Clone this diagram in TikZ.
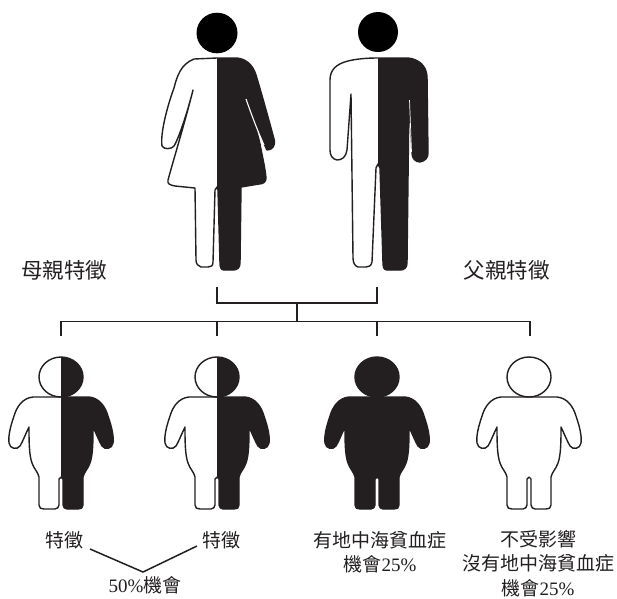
\documentclass[tikz,border=0pt]{standalone}
\usepackage{fontspec}
\setmainfont{Liberation Serif}
\newfontfamily\cjk{Noto Sans CJK TC}
\definecolor{ink}{HTML}{231F20}
\newcommand\latn[1]{{\rmfamily #1}}

% woman silhouette: dress, arms and legs, one closed outline
\newcommand\womanshape{(217,58) -- (237,58)
 .. controls (246,59) and (253,65) .. (256,75)
 .. controls (262,95) and (270,124) .. (274,139)
 .. controls (276,146) and (272,150) .. (267,150)
 .. controls (261,138) and (251,114) .. (244,93)
 .. controls (250,112) and (257,130) .. (260,144)
 .. controls (262,155) and (265,167) .. (266,178)
 .. controls (266,182) and (263,184) .. (259,184)
 -- (241,187) -- (240,263)
 .. controls (240,268) and (237,270) .. (233,270)
 -- (224,270) .. controls (221,270) and (220,267) .. (220,263)
 -- (218,190) -- (217,187) -- (215,190)
 -- (213,262) .. controls (213,266) and (211,267) .. (208,267)
 -- (201,267) .. controls (198,266) and (196,264) .. (196,260)
 -- (195,188) -- (175,186)
 .. controls (170,185) and (167,184) .. (168,180)
 .. controls (174,158) and (185,122) .. (193,90)
 .. controls (188,110) and (179,138) .. (174,146)
 .. controls (172,149) and (164,150) .. (162,146)
 .. controls (160,133) and (168,104) .. (174,88)
 .. controls (177,76) and (181,64) .. (194,59) -- cycle}

% man silhouette
\newcommand\manshape{(378,58) -- (408,58)
 .. controls (418,59) and (426,65) .. (427,76)
 -- (428,153) .. controls (428,158) and (425,161) .. (420,162)
 .. controls (415,162) and (412,158) .. (412,153)
 -- (409,96) -- (407,263)
 .. controls (407,268) and (404,270) .. (400,270)
 -- (387,270) .. controls (384,270) and (383,267) .. (383,263)
 -- (380,168) -- (378,164) -- (376,168)
 -- (372,262) .. controls (371,266) and (369,267) .. (366,267)
 -- (358,267) .. controls (355,266) and (353,263) .. (353,258)
 -- (351,94) -- (347,150)
 .. controls (346,157) and (342,160) .. (337,160)
 .. controls (332,159) and (330,155) .. (330,150)
 -- (330,80) .. controls (330,70) and (336,64) .. (348,61)
 .. controls (356,59) and (366,58) .. (378,58) -- cycle}

% child body, drawn about its own vertical centre line
\newcommand\kidshape{(0,397) -- (28,397)
 .. controls (38,398) and (44,406) .. (47,416)
 .. controls (50,425) and (53,435) .. (52,443)
 .. controls (51,449) and (44,450) .. (41,446)
 .. controls (38,441) and (35,433) .. (32,427)
 .. controls (32,440) and (32,455) .. (29,463)
 .. controls (27,469) and (23,472) .. (22,477)
 -- (22,505) .. controls (22,508) and (20,509) .. (17,509)
 -- (6,509) .. controls (4,509) and (2,507) .. (2,505)
 -- (2,479) -- (0,477) -- (-2,479) -- (-2,505)
 .. controls (-2,507) and (-4,509) .. (-6,509)
 -- (-17,509) .. controls (-20,509) and (-22,508) .. (-22,505)
 -- (-22,477) .. controls (-23,472) and (-27,469) .. (-29,463)
 .. controls (-32,455) and (-32,440) .. (-32,427)
 .. controls (-35,433) and (-38,441) .. (-41,446)
 .. controls (-44,450) and (-51,449) .. (-52,443)
 .. controls (-53,435) and (-50,425) .. (-47,416)
 .. controls (-44,406) and (-38,398) .. (-28,397) -- cycle}
\newcommand\kidhead{(0,377) ellipse [x radius=22, y radius=20]}

\begin{document}
\begin{tikzpicture}[x=1pt, y=-1pt,
  figline/.style={draw=ink, line width=1.4pt, line join=round},
  tree/.style={draw=ink, line width=1.9pt},
  vline/.style={draw=ink, line width=1.5pt},
  toplabel/.style={font=\cjk\fontsize{21.5}{26}\selectfont, text=ink, inner sep=0pt},
  kidlabel/.style={font=\cjk\fontsize{19}{24.5}\selectfont, text=ink, inner sep=0pt, align=center}]
\useasboundingbox[fill=white] (0,0) rectangle (617,598);

% ---- parents ----
\fill[black] (217,33) ellipse [x radius=20.5, y radius=20.3];
\fill[white] \womanshape;
\begin{scope}
  \clip (217,50) rectangle (300,280);
  \fill[ink] \womanshape;
\end{scope}
\draw[figline] \womanshape;
\draw[white, line width=1.1pt] (246,99) .. controls (252,116) and (258,132) .. (264,145);

\fill[black] (378,32) ellipse [x radius=20, y radius=20];
\fill[white] \manshape;
\begin{scope}
  \clip (378,50) rectangle (450,280);
  \fill[ink] \manshape;
\end{scope}
\draw[figline] \manshape;
\draw[white, line width=0.7pt] (409.5,100) -- (411.5,152);

\node[toplabel] (mom) at (64,270) {母親特徵};
\node[toplabel] (dad) at (506.5,270) {父親特徵};

% ---- family tree connectors ----
\coordinate (pM) at (217,287);
\coordinate (pF) at (377,287);
\coordinate (pJ) at (297,303);
\coordinate (kJ) at (297,321.5);
\coordinate (k1) at (61,336);
\coordinate (k2) at (217,336);
\coordinate (k3) at (377,336);
\coordinate (k4) at (530,336);
\draw[tree] (pM) |- (pJ) -| (pF);
\draw[tree] (pJ) -- (kJ);
\draw[tree] (k1) |- (kJ) -| (k4);
\draw[tree] (k2) -- (k2 |- kJ);
\draw[tree] (k3) -- (k3 |- kJ);

% ---- children ----
\foreach \m in {61,217}{
  \begin{scope}[shift={(\m,0)}]
    \fill[white] \kidshape; \fill[white] \kidhead;
    \begin{scope}
      \clip (0,350) rectangle (70,515);
      \fill[ink] \kidshape; \fill[ink] \kidhead;
    \end{scope}
    \draw[figline] \kidshape; \draw[figline] \kidhead;
  \end{scope}}
\begin{scope}[shift={(377,0)}]
  \fill[ink] \kidshape; \fill[ink] \kidhead;
  \draw[figline] \kidshape; \draw[figline] \kidhead;
\end{scope}
\begin{scope}[shift={(529,0)}]
  \fill[white] \kidshape; \fill[white] \kidhead;
  \draw[figline] \kidshape; \draw[figline] \kidhead;
\end{scope}

% ---- captions ----
\node[kidlabel] (c1) at (64,540) {特徵};
\node[kidlabel] (c2) at (221,540) {特徵};
\node[kidlabel] (c3) at (380,552.5) {有地中海貧血症\\機會\latn{25\%}};
\node[kidlabel] (c4) at (538,563.5) {不受影響\\沒有地中海貧血症\\機會\latn{25\%}};
\node[kidlabel] (half) at (145,585) {\latn{50\%}機會};

\coordinate (vL) at (90,549);
\coordinate (vM) at (143,572);
\coordinate (vR) at (197,546);
\draw[vline] (vL) -- (vM) -- (vR);
\end{tikzpicture}
\end{document}
